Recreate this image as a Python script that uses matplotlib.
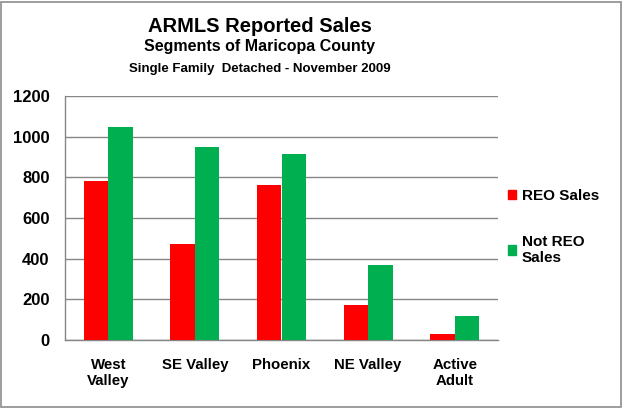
import numpy as np
import matplotlib
matplotlib.use("Agg")
import matplotlib.pyplot as plt
from matplotlib.patches import Patch, Rectangle

# values
segments = ["West\nValley", "SE Valley", "Phoenix", "NE Valley", "Active\nAdult"]
reo_sales = [783, 472, 762, 172, 30]
not_reo_sales = [1047, 949, 915, 369, 118]
y_ticks = [0, 200, 400, 600, 800, 1000, 1200]

red = "#FF0000"
green = "#00B050"
grid_gray = "#868686"

plt.rcParams["font.family"] = ["Liberation Sans", "DejaVu Sans"]
plt.rcParams["font.weight"] = "bold"

fig = plt.figure(figsize=(6.24, 4.08), dpi=100)
ax = fig.add_axes([65 / 624, 1 - 340 / 408, 433 / 624, 244 / 408])

x = np.arange(len(segments))
w = 0.283
ax.bar(x - w / 2, reo_sales, w, color=red, label="REO Sales", zorder=3)
ax.bar(x + w / 2, not_reo_sales, w, color=green, label="Not REO\nSales", zorder=3)

ax.set_xlim(-0.5, len(segments) - 0.5)
ax.set_ylim(0, 1200)
ax.set_yticks(y_ticks)
ax.set_xticks(x)
ax.set_xticklabels(segments, fontsize=10.8, fontweight="bold", linespacing=1.2)
ax.tick_params(axis="y", length=0, pad=11, labelsize=12)
ax.tick_params(axis="x", length=0, pad=13)
for lab in ax.get_yticklabels():
    lab.set_fontweight("bold")

ax.yaxis.grid(True, color=grid_gray, linewidth=1, zorder=0)
for side in ["top", "right"]:
    ax.spines[side].set_visible(False)
for side in ["left", "bottom"]:
    ax.spines[side].set_color(grid_gray)
    ax.spines[side].set_linewidth(1)

# titles
fig.text(260 / 624, 1 - 26 / 408, "ARMLS Reported Sales", ha="center", va="center",
         fontsize=14.5, fontweight="bold")
fig.text(260 / 624, 1 - 47 / 408, "Segments of Maricopa County", ha="center", va="center",
         fontsize=11.5, fontweight="bold")
fig.text(260 / 624, 1 - 69 / 408, "Single Family  Detached - November 2009", ha="center",
         va="center", fontsize=9.5, fontweight="bold")

handles = [Patch(color=red), Patch(color=green)]
fig.legend(handles, ["REO Sales", "Not REO\nSales"], loc="upper left",
           bbox_to_anchor=(494 / 624, 1 - 175 / 408), frameon=False,
           handlelength=0.55, handleheight=0.55, handletextpad=0.35,
           labelspacing=2.1, prop={"size": 11, "weight": "bold"})

# outer border
fig.patches.append(Rectangle((0.002, 0.003), 0.993, 0.993, transform=fig.transFigure,
                             fill=False, edgecolor="#8c8c8c", linewidth=1.2))

fig.savefig("out.png", dpi=100)
